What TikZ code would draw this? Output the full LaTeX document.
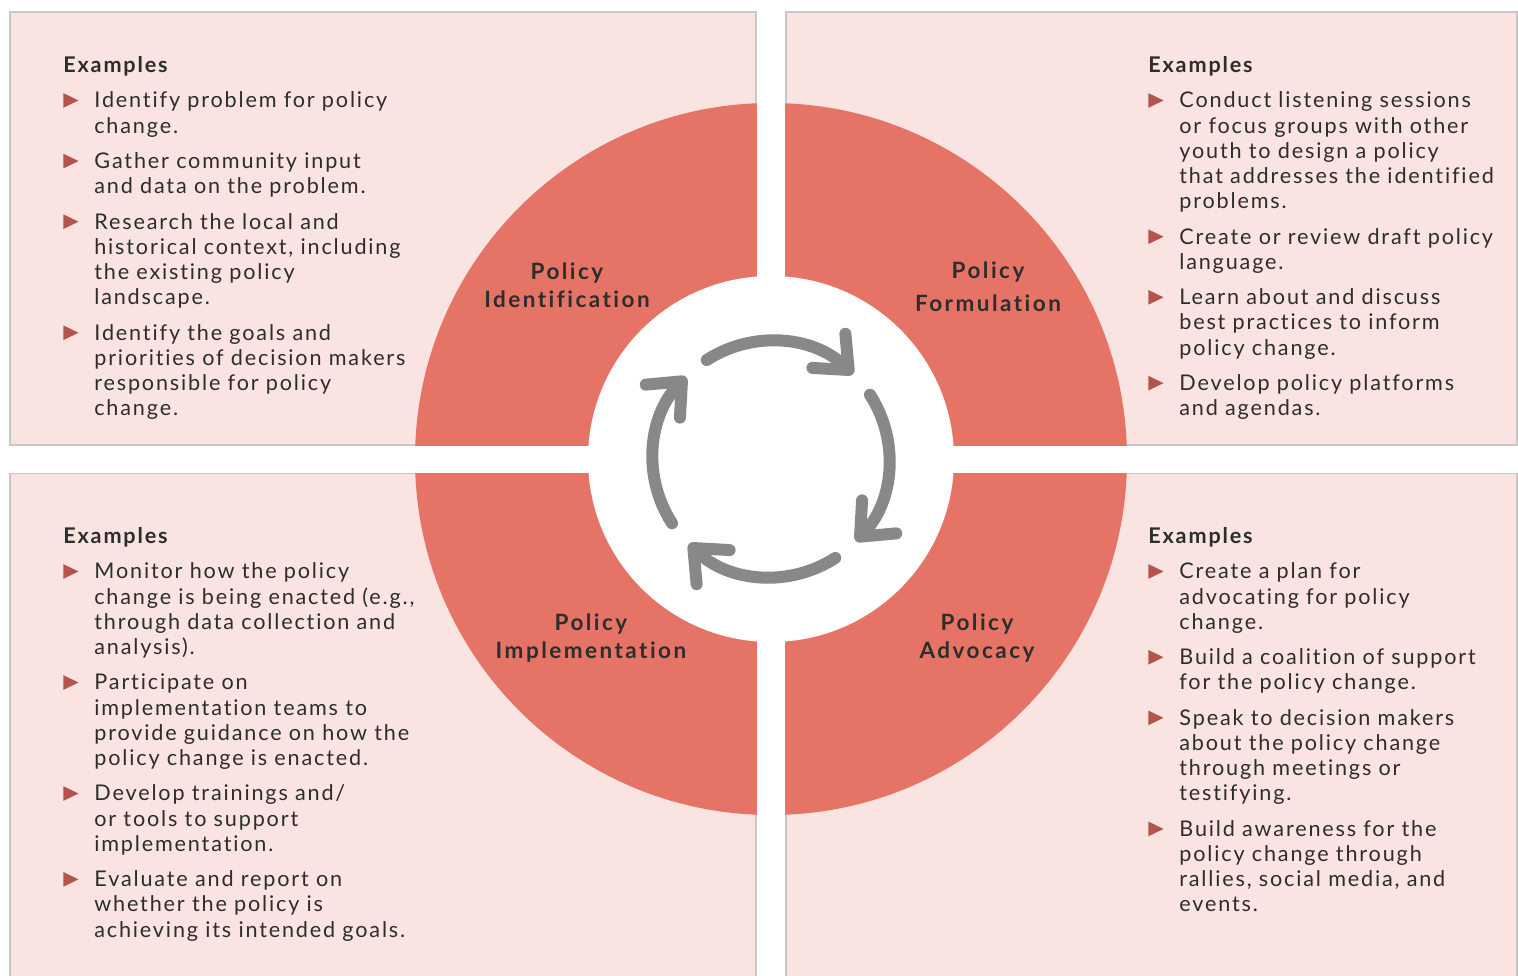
\documentclass[tikz,border=0pt]{standalone}
\usepackage{fontspec}
\usepackage{enumitem}
\setmainfont{Lato}[LetterSpace=8.5,Ligatures=NoCommon]
\newfontfamily\stagefont{Lato}[LetterSpace=11,Ligatures=NoCommon]
\usetikzlibrary{arrows.meta}
\definecolor{mypink}{RGB}{249,228,225}
\definecolor{myred}{RGB}{229,116,102}
\definecolor{mygray}{RGB}{134,136,138}
\definecolor{myline}{RGB}{200,200,200}
\definecolor{mytext}{RGB}{45,45,45}
\definecolor{mybullet}{RGB}{181,84,77}

\newcommand{\bul}{\tikz[baseline=0pt]\fill[mybullet] (0,0) -- (0,0.68em) -- (0.7em,0.34em) -- cycle;}
\newlist{examples}{itemize}{1}
\setlist[examples]{label=\bul, leftmargin=0.62cm, labelindent=0pt, labelwidth=0.3cm,
    labelsep=0.32cm, align=left, topsep=5.8pt, partopsep=0pt, parsep=0pt, itemsep=5.8pt}

\begin{document}
\begin{tikzpicture}[x=0.02cm,y=-0.02cm]

\tikzstyle{box} = [fill=mypink, draw=myline, line width=0.6pt]
\tikzstyle{stage} = [font=\stagefont\fontsize{12.8}{15.9}\selectfont\bfseries, text=mytext,
    align=center, inner sep=0]
\tikzstyle{exlist} = [anchor=north west, inner sep=0, text width=8cm, text=mytext,
    font=\fontsize{12.3}{14.35}\selectfont]
\tikzstyle{cyclearrow} = [draw=mygray, line width=0.24cm, line cap=round,
    -{Straight Barb[length=0.55cm,width=0.95cm,round]}]

\clip (0,0) rectangle (1518,976);
\fill[white] (0,0) rectangle (1518,976);

% =========================
% four boxes
% =========================
\draw[box] (10,12) rectangle (756,445);
\draw[box] (786,12) rectangle (1517,445);
\draw[box] (10,473) rectangle (756,1000);
\draw[box] (786,473) rectangle (1517,1000);

% =========================
% wheel in the middle
% =========================
\coordinate (c) at (771,459);
\fill[myred] (c) circle[radius=356];
\fill[white] (757,0) rectangle (785,976);
\fill[white] (0,445.5) rectangle (1518,472.5);
\fill[white] (c) circle[radius=183];

\draw[cyclearrow] (c) ++(-123:118) arc[start angle=-123, end angle=-46, radius=118];
\draw[cyclearrow] (c) ++(-33:118) arc[start angle=-33, end angle=44, radius=118];
\draw[cyclearrow] (c) ++(57:118) arc[start angle=57, end angle=134, radius=118];
\draw[cyclearrow] (c) ++(147:118) arc[start angle=147, end angle=224, radius=118];

\node[stage] (ident) at (567,285) {Policy\\Identification};
\node[stage] (form) at (988,287) {Policy\\[2.8pt]Formulation};
\node[stage] (impl) at (591,638) {Policy\\Implementation};
\node[stage] (advo) at (977,638) {Policy\\Advocacy};

% =========================
% examples - top row
% =========================
\node[exlist] (identex) at (63,56) {\textbf{Examples}
\begin{examples}
\item Identify problem for policy\\change.
\item Gather community input\\and data on the problem.
\item Research the local and\\historical context, including\\the existing policy\\landscape.
\item Identify the goals and\\priorities of decision makers\\responsible for policy\\change.
\end{examples}};

\node[exlist] (formex) at (1148,56) {\textbf{Examples}
\begin{examples}
\item Conduct listening sessions\\or focus groups with other\\youth to design a policy\\that addresses the identified\\problems.
\item Create or review draft policy\\language.
\item Learn about and discuss\\best practices to inform\\policy change.
\item Develop policy platforms\\and agendas.
\end{examples}};

% =========================
% examples - bottom row
% =========================
\node[exlist] (implex) at (63,527) {\textbf{Examples}
\begin{examples}
\item Monitor how the policy\\change is being enacted (e.g.,\\through data collection and\\analysis).
\item Participate on\\implementation teams to\\provide guidance on how the\\policy change is enacted.
\item Develop trainings and/\\or tools to support\\implementation.
\item Evaluate and report on\\whether the policy is\\achieving its intended goals.
\end{examples}};

\node[exlist] (advoex) at (1148,527) {\textbf{Examples}
\begin{examples}
\item Create a plan for\\advocating for policy\\change.
\item Build a coalition of support\\for the policy change.
\item Speak to decision makers\\about the policy change\\through meetings or\\testifying.
\item Build awareness for the\\policy change through\\rallies, social media, and\\events.
\end{examples}};

\end{tikzpicture}
\end{document}
